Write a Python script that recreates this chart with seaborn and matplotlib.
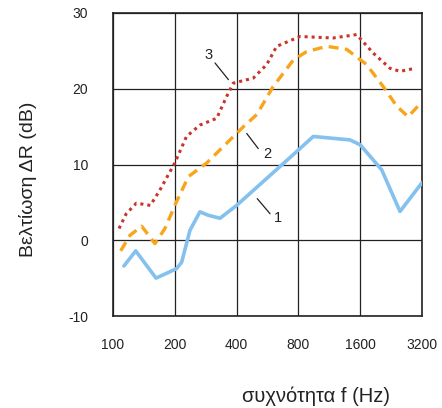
import numpy as np
import pandas as pd
import matplotlib
matplotlib.use('Agg')
import matplotlib.pyplot as plt
import seaborn as sns

# καμπύλη 1 (μπλε συνεχής)
freq1 = [113, 129, 162, 204, 216, 237, 265, 291, 332, 400, 784, 945, 1425, 1600, 2036, 2500, 3200]
dR1 = [-3.4, -1.4, -5.0, -3.75, -2.9, 1.3, 3.75, 3.3, 2.9, 4.6, 11.7, 13.7, 13.25, 12.6, 9.3, 3.8, 7.6]

# καμπύλη 2 (πορτοκαλί διακεκομμένη)
freq2 = [109, 121, 138, 160, 179, 204, 233, 286, 432, 502, 603, 756, 877, 1100, 1375, 1717, 2070, 2410, 2740, 3200]
dR2 = [-1.4, 0.66, 1.85, -0.45, 1.55, 5.1, 8.4, 10.2, 15.0, 16.6, 20.3, 23.8, 24.9, 25.6, 25.2, 23.2, 20.3, 17.7, 16.3, 18.3]

# καμπύλη 3 (κόκκινη με τελείες)
freq3 = [107, 116, 130, 152, 169, 200, 228, 265, 320, 358, 386, 482, 561, 627, 815, 1180, 1537, 1853, 2234, 2500, 2960]
dR3 = [1.55, 3.5, 4.9, 4.6, 6.6, 10.2, 13.7, 15.2, 16.1, 19.0, 20.75, 21.4, 23.2, 25.6, 26.9, 26.7, 27.15, 24.7, 22.7, 22.3, 22.7]

xticks = [100, 200, 400, 800, 1600, 3200]
yticks = [-10, 0, 10, 20, 30]

sns.set_style('white')
plt.rcParams['font.family'] = ['Liberation Sans', 'DejaVu Sans']

fig = plt.figure(figsize=(4.42, 4.08), dpi=100)
ax = fig.add_axes([113 / 442, 1 - 316 / 408, 309 / 442, 303 / 408])

d1 = pd.DataFrame({'f': freq1, 'dR': dR1})
d2 = pd.DataFrame({'f': freq2, 'dR': dR2})
d3 = pd.DataFrame({'f': freq3, 'dR': dR3})

sns.lineplot(data=d1, x='f', y='dR', ax=ax, color='#84c1ee', lw=2.6,
             solid_capstyle='round', solid_joinstyle='round', sort=False, zorder=3)
sns.lineplot(data=d2, x='f', y='dR', ax=ax, color='#f8a51c', lw=2.4,
             dashes=False, sort=False, zorder=3)
ax.lines[-1].set_linestyle((0, (3.0, 1.9)))
sns.lineplot(data=d3, x='f', y='dR', ax=ax, color='#c9342b', lw=2.2,
             sort=False, zorder=3)
ax.lines[-1].set_linestyle((0, (1, 1.3)))
ax.lines[-1].set_dash_capstyle('butt')

ax.set_xscale('log', base=2)
ax.set_xlim(100, 3200)
ax.set_ylim(-10, 30)
ax.set_xticks(xticks)
ax.set_xticklabels([str(v) for v in xticks])
ax.minorticks_off()
ax.set_yticks(yticks)
ax.set_yticklabels([str(v) for v in yticks])
ax.grid(True, color='#222222', lw=0.9)
for s in ax.spines.values():
    s.set_color('#222222')
    s.set_linewidth(1.2)
ax.tick_params(axis='both', direction='out', length=10, width=0.9, color='#222222',
               labelsize=10, labelcolor='#222222')
ax.tick_params(axis='y', pad=8)
ax.tick_params(axis='x', pad=6)
for t in (ax.xaxis.get_major_ticks()[0], ax.xaxis.get_major_ticks()[-1],
          ax.yaxis.get_major_ticks()[0], ax.yaxis.get_major_ticks()[-1]):
    t.tick1line.set_visible(False)
ax.set_xlabel('')
ax.set_ylabel('')

# ετικέτες καμπυλών
ax.plot([314, 365], [23.4, 21.2], color='#222222', lw=0.9)
ax.text(293, 24.5, '3', fontsize=10.5, ha='center', va='center', color='#222222')
ax.plot([448, 510], [14.1, 12.1], color='#222222', lw=0.9)
ax.text(567, 11.4, '2', fontsize=10.5, ha='center', va='center', color='#222222')
ax.plot([504, 582], [5.5, 3.5], color='#222222', lw=0.9)
ax.text(638, 2.9, '1', fontsize=10.5, ha='center', va='center', color='#222222')

fig.text(28 / 442, 1 - 179 / 408, 'Βελτίωση ΔR (dB)', rotation=90, ha='center', va='center',
         fontsize=14, color='#222222')
fig.text(316 / 442, 1 - 396 / 408, 'συχνότητα f (Hz)', ha='center', va='center',
         fontsize=14.5, color='#222222')

fig.savefig('out.png', dpi=100)
